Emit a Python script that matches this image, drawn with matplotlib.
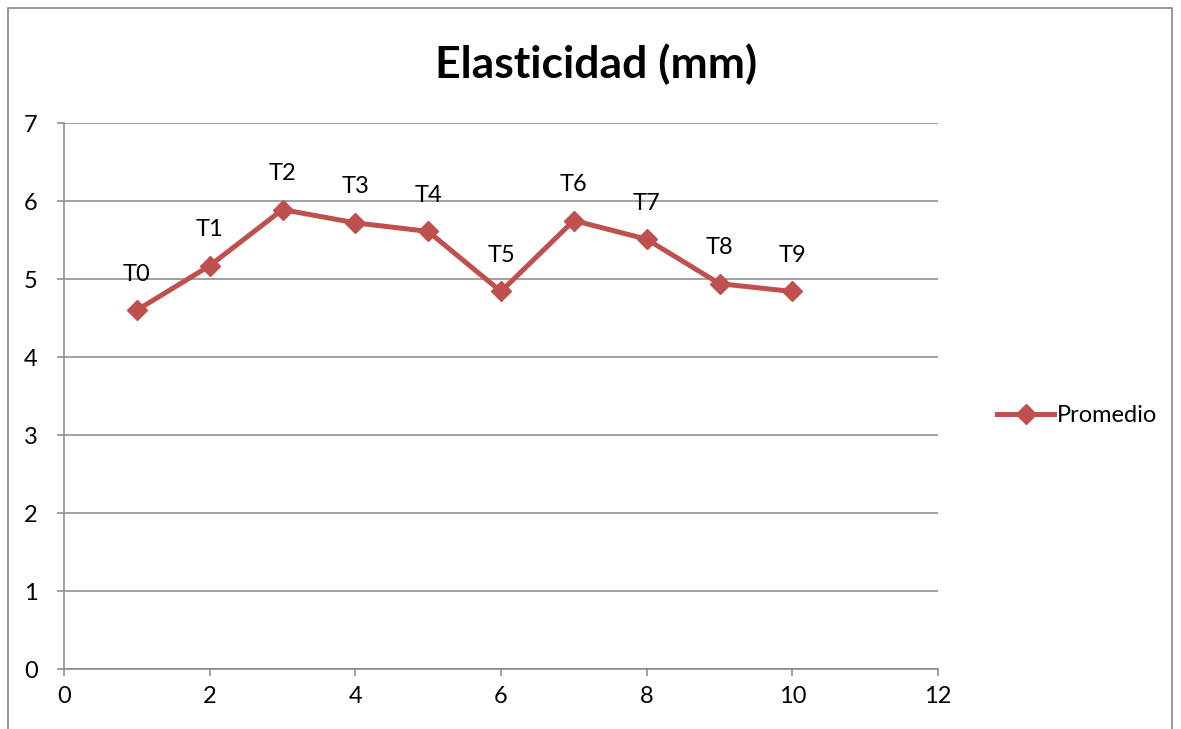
import matplotlib
matplotlib.use("Agg")
import matplotlib.pyplot as plt
from matplotlib.patches import Rectangle

x_vals = [1, 2, 3, 4, 5, 6, 7, 8, 9, 10]
promedio = [4.60, 5.17, 5.89, 5.72, 5.61, 4.84, 5.75, 5.51, 4.94, 4.84]
point_labels = ["T0", "T1", "T2", "T3", "T4", "T5", "T6", "T7", "T8", "T9"]
series_name = "Promedio"
title = "Elasticidad (mm)"
x_ticks = [0, 2, 4, 6, 8, 10, 12]
y_ticks = [0, 1, 2, 3, 4, 5, 6, 7]

plt.rcParams['font.family'] = ['Lato', 'DejaVu Sans']

W, H = 1181, 729
fig = plt.figure(figsize=(W / 100, H / 100), dpi=100)
ax = fig.add_axes([64 / W, (H - 669) / H, (938 - 64) / W, (669 - 123) / H])

grid_c = "#868686"
line_c = "#C0504D"

# outer chart frame
fig.patches.append(Rectangle((8 / W, -0.1), (1172 - 8) / W, 1.1 - 8 / H,
                             transform=fig.transFigure, fill=False,
                             edgecolor=grid_c, linewidth=1.2))

ax.set_xlim(0, 12)
ax.set_ylim(0, 7)
ax.set_xticks(x_ticks)
ax.set_yticks(y_ticks)
ax.yaxis.grid(True, color=grid_c, linewidth=1.1)
ax.set_axisbelow(True)
for s in ["top", "right"]:
    ax.spines[s].set_visible(False)
for s in ["left", "bottom"]:
    ax.spines[s].set_color(grid_c)
    ax.spines[s].set_linewidth(1.1)
ax.tick_params(axis="both", colors=grid_c, labelcolor="black", length=5,
               width=1.1, labelsize=17)
ax.tick_params(axis="y", pad=14)
ax.tick_params(axis="x", pad=7)

ax.plot(x_vals, promedio, color=line_c, linewidth=3.6, marker="D",
        markersize=10, label=series_name, solid_joinstyle="round")

for xv, yv, lab in zip(x_vals, promedio, point_labels):
    ax.annotate(lab, (xv, yv), xytext=(0, 26), textcoords="offset points",
                ha="center", va="center", fontsize=17)

fig.text(596 / W, 1 - 64 / H, title, ha="center", va="center",
         fontsize=32, fontweight="bold")

ax.legend(loc="center left", bbox_to_anchor=(988 / W, 1 - 416 / H),
          bbox_transform=fig.transFigure, frameon=False, fontsize=17,
          handlelength=2.4, handletextpad=0.1, borderaxespad=0)

fig.savefig("out.png", dpi=100)
